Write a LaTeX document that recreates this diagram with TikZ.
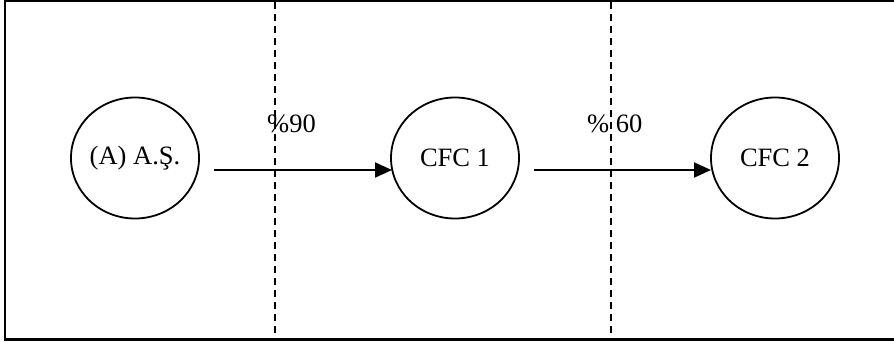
\documentclass[tikz,border=0pt]{standalone}
\usepackage{fontspec}
\setmainfont{Liberation Serif}
\usetikzlibrary{arrows.meta,shapes.geometric}
\begin{document}
\begin{tikzpicture}[x=1pt,y=-1pt,
  ent/.style={draw,line width=1.8pt,ellipse,minimum width=128pt,minimum height=121pt,inner sep=0pt,font=\fontsize{26.5}{30}\selectfont},
  flow/.style={line width=2pt,-{Triangle[length=17pt,width=15pt]}},
  border/.style={dashed,line width=1.5pt,dash pattern=on 7pt off 5pt},
  lbl/.style={anchor=base west,inner sep=0pt,font=\fontsize{26.5}{30}\selectfont}]
\useasboundingbox (0,0) rectangle (894,342);
\clip (0,0) rectangle (894,342);
\fill[white] (0,0) rectangle (894,342);
\draw[line width=2.2pt] (5,1) rectangle (910,339.5);
\node[ent] (as) at (135,158) {(A) A.Ş.};
\node[ent] (c1) at (455,158) {CFC 1};
\node[ent] (c2) at (775,158) {CFC 2};
\coordinate (d1t) at (275,2);
\coordinate (d1b) at (275,339);
\coordinate (d2t) at (611,2);
\coordinate (d2b) at (611,339);
\draw[border] (d1t) -- (d1b);
\draw[border] (d2t) -- (d2b);
\coordinate (a1s) at (214,170);
\coordinate (a1e) at (392,170);
\coordinate (a2s) at (534,170);
\coordinate (a2e) at (711,170);
\draw[flow] (a1s) -- (a1e);
\draw[flow] (a2s) -- (a2e);
\node[lbl] (p90) at (267,132) {\%90};
\node[lbl] (p60) at (587,132) {\% 60};
\end{tikzpicture}
\end{document}
